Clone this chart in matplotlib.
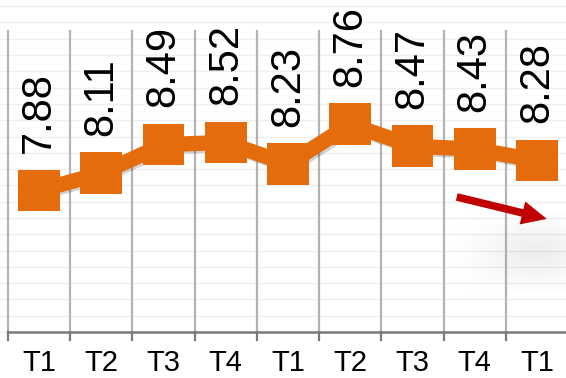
import numpy as np
import matplotlib
matplotlib.use('Agg')
import matplotlib.pyplot as plt
import matplotlib.patheffects as pe
from matplotlib import font_manager

# quarterly scores
quarters = ['T1', 'T2', 'T3', 'T4', 'T1', 'T2', 'T3', 'T4', 'T1']
scores = [7.88, 8.11, 8.49, 8.52, 8.23, 8.76, 8.47, 8.43, 8.28]

ORANGE = '#E46C0A'
DARK_RED = '#C00000'


def pick_font():
    names = {f.name for f in font_manager.fontManager.ttflist}
    for name in ['Liberation Sans Narrow', 'Liberation Sans', 'DejaVu Sans']:
        if name in names:
            return name
    return 'DejaVu Sans'


def main():
    font = pick_font()
    plt.rcParams['font.family'] = [font, 'DejaVu Sans']

    fig = plt.figure(figsize=(5.66, 3.78), dpi=100)
    ax = fig.add_axes([0, 0, 1, 1])
    x = np.arange(len(scores))
    ax.set_xlim(-0.627, 8.466)
    ax.set_ylim(5.389, 10.412)
    ax.axis('off')

    # faint background rows
    for y in np.arange(6.0, 10.5, 0.2165):
        ax.axhline(y, color='#efefef', lw=1.0, zorder=0)

    # category separators and tick marks
    for b in np.arange(-0.5, len(scores), 1.0):
        ax.plot([b, b], [6.0, 10.0], color='#b3b3b3', lw=1.6, zorder=1)
        ax.plot([b, b], [5.89, 6.0], color='#7a7a7a', lw=1.6, zorder=1)
    ax.plot([-0.5, 8.6], [6.0, 6.0], color='#7a7a7a', lw=1.8, zorder=2)

    # soft haze at the right
    gx, gy = np.meshgrid(np.linspace(0, 1, 200), np.linspace(0, 1, 200))
    haze = np.exp(-(((gx - 0.65) / 0.38) ** 2 + ((gy - 0.5) / 0.32) ** 2))
    rgba = np.zeros((200, 200, 4))
    rgba[..., :3] = 0.55
    rgba[..., 3] = 0.15 * haze
    ax.imshow(rgba, extent=[6.6, 8.7, 6.5, 7.6], aspect='auto',
              interpolation='bilinear', zorder=1.5)

    ax.plot(x, scores, color=ORANGE, lw=11, marker='s', markersize=30,
            markeredgewidth=0, zorder=3, solid_joinstyle='round',
            path_effects=[pe.SimpleLineShadow(offset=(1.5, -1.5), alpha=0.18),
                          pe.Normal()])

    # value labels above each point
    for xi, v in zip(x, scores):
        ax.annotate(f'{v:.2f}', (xi, v), xytext=(0, 27), textcoords='offset points',
                    rotation=90, ha='center', va='bottom', fontsize=30,
                    color='black', zorder=4)

    for xi, q in zip(x, quarters):
        ax.text(xi, 5.585, q, ha='center', va='center', fontsize=21, color='black')

    # trend arrow
    ax.annotate('', xy=(0.966, 0.421), xytext=(0.807, 0.479),
                xycoords='axes fraction', textcoords='axes fraction',
                arrowprops=dict(arrowstyle='simple,head_width=1.7,head_length=1.8,tail_width=0.55',
                                mutation_scale=10, color=DARK_RED, lw=0,
                                shrinkA=0, shrinkB=0), zorder=5)

    fig.savefig('out.png', dpi=100)


if __name__ == '__main__':
    main()
